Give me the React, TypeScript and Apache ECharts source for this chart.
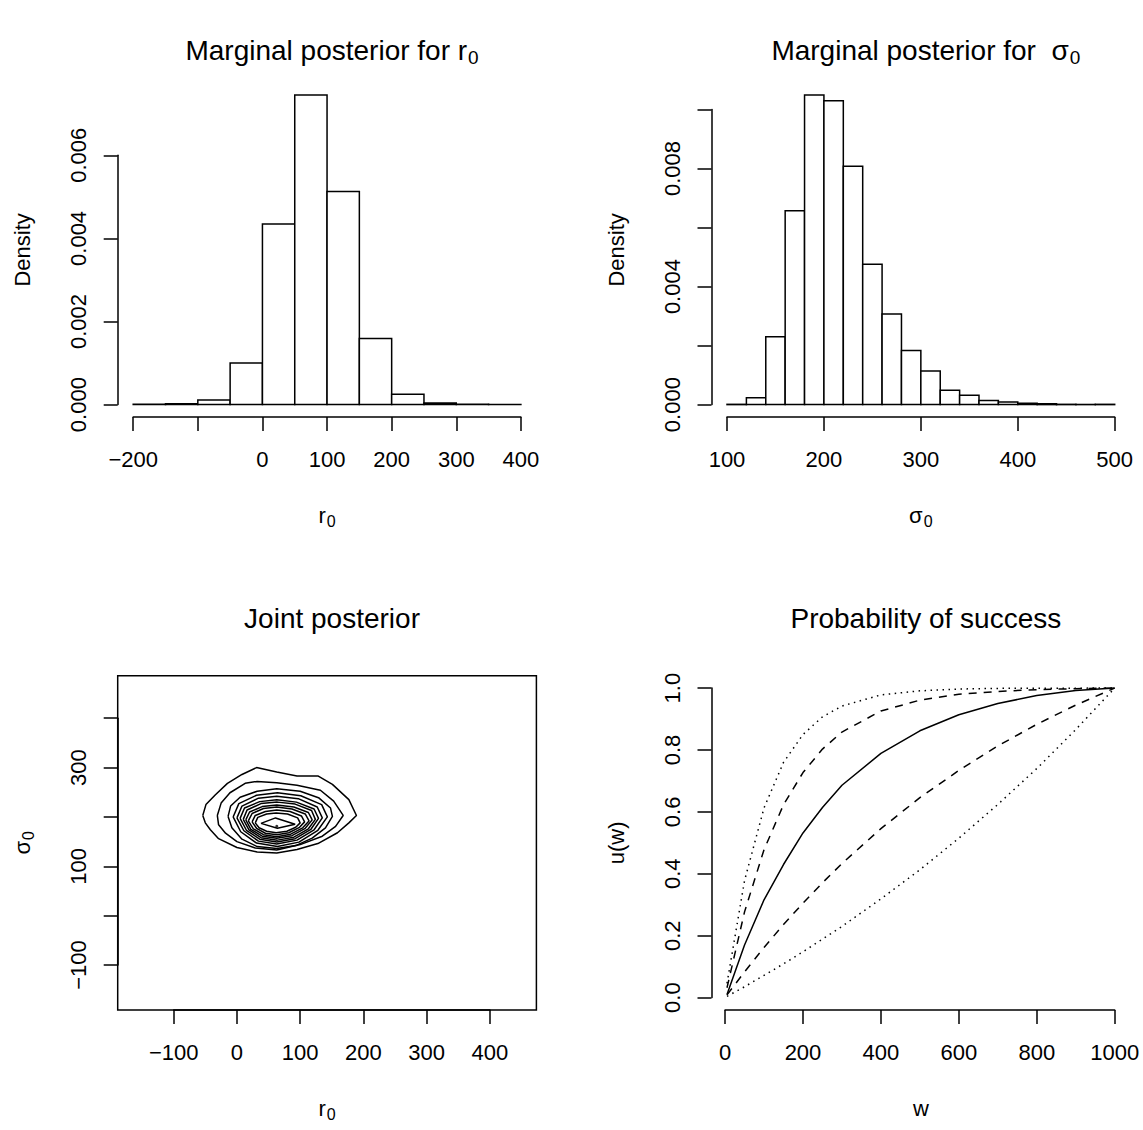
import React, { useEffect, useRef } from "react";
import * as echarts from "echarts";

const FONT = "'Liberation Sans', Arial, Helvetica, sans-serif";

// ---------- Panel 1: marginal posterior for r0 ----------
const r0Breaks = [-200, -150, -100, -50, 0, 50, 100, 150, 200, 250, 300, 350, 400];
const r0Density = [0.000008, 0.00002, 0.00011, 0.001, 0.00435, 0.00745, 0.00513, 0.00159, 0.00025, 0.00004, 0.00001, 0.000005];
const r0TicksX = [-200, -100, 0, 100, 200, 300, 400];
const r0LabelsX = [-200, 0, 100, 200, 300, 400];
const r0TicksY = [0, 0.002, 0.004, 0.006];
const r0LabelsY = [0, 0.002, 0.004, 0.006];

// ---------- Panel 2: marginal posterior for sigma0 ----------
const sigmaBreaks = [100, 120, 140, 160, 180, 200, 220, 240, 260, 280, 300, 320, 340, 360, 380, 400, 420, 440, 460, 480, 500];
const sigmaDensity = [0.00001, 0.00023, 0.0023, 0.00657, 0.01049, 0.0103, 0.00808, 0.00476, 0.00307, 0.00183, 0.00114, 0.00049, 0.00032, 0.000136, 0.00009, 0.00005, 0.00003, 0.00001, 0.000005, 0.00001];
const sigmaTicksX = [100, 200, 300, 400, 500];
const sigmaLabelsX = [100, 200, 300, 400, 500];
const sigmaTicksY = [0, 0.002, 0.004, 0.006, 0.008, 0.01];
const sigmaLabelsY = [0, 0.004, 0.008];

// ---------- Panel 3: joint posterior (contour lines, outer to inner) ----------
const jointXRange = [-164, 449];
const jointYRange = [-166, 461];
const contour1 = [[-54, 203], [-49, 225], [-34, 245], [-15, 268], [8, 286], [31, 300], [63, 291], [95, 283], [128, 283], [151, 266], [177, 235], [189, 203], [177, 188], [159, 168], [128, 146], [95, 134], [63, 127], [32, 129], [0, 138], [-29, 156], [-42, 174], [-50, 188]];
const contour2 = [[-31, 203], [-25, 228], [-11, 249], [13, 268], [32, 272], [63, 269], [95, 264], [132, 254], [153, 232], [168, 203], [156, 181], [135, 161], [100, 144], [63, 133], [29, 137], [0, 150], [-18, 167], [-29, 184]];
const contour3 = [[-14, 201], [-10, 222], [5, 240], [32, 252], [63, 257], [100, 252], [129, 239], [148, 218], [151, 201], [140, 178], [119, 157], [93, 142], [63, 136], [32, 140], [8, 155], [-8, 178]];
const contour4 = [[-6, 200], [3, 227], [31, 244], [64, 249], [101, 243], [134, 225], [143, 200], [128, 173], [98, 149], [64, 140], [31, 147], [6, 170]];
const contour5 = [[0, 198], [8, 222], [34, 238], [63, 242], [97, 237], [127, 220], [135, 198], [122, 174], [95, 153], [63, 145], [34, 151], [11, 172]];
const contour6 = [[5, 197], [12, 218], [36, 231], [63, 235], [94, 230], [122, 216], [129, 197], [117, 175], [92, 156], [63, 149], [36, 155], [15, 173]];
const contour7 = [[10, 195], [16, 214], [38, 227], [64, 230], [92, 226], [118, 213], [124, 195], [113, 176], [90, 159], [64, 153], [38, 158], [19, 174]];
const contour8 = [[14, 194], [20, 210], [40, 221], [63, 224], [90, 220], [113, 209], [119, 194], [108, 177], [87, 162], [63, 157], [40, 161], [22, 175]];
const contour9 = [[18, 192], [24, 207], [42, 217], [63, 220], [87, 216], [108, 206], [114, 192], [104, 178], [85, 165], [63, 160], [42, 164], [26, 176]];
const contour10 = [[24, 190], [29, 203], [45, 211], [63, 214], [84, 211], [102, 202], [107, 190], [99, 179], [82, 168], [63, 164], [45, 167], [31, 177]];
const contour11 = [[29, 188], [33, 199], [47, 206], [62, 208], [80, 206], [96, 198], [100, 188], [93, 179], [79, 171], [62, 168], [47, 171], [35, 178]];
const contour12 = [[38, 187], [61, 198], [92, 185], [64, 177]];
const contours = [contour1, contour2, contour3, contour4, contour5, contour6, contour7, contour8, contour9, contour10, contour11, contour12];
const jointMode = [63, 181];
const jointTicksX = [-100, 0, 100, 200, 300, 400];
const jointLabelsX = [-100, 0, 100, 200, 300, 400];
const jointTicksY = [-100, 0, 100, 200, 300, 400];
const jointLabelsY = [-100, 100, 300];

// ---------- Panel 4: probability of success ----------
const wValues = [5, 50, 100, 150, 200, 250, 300, 400, 500, 600, 700, 800, 900, 1000];
const uDottedHigh = [0.046, 0.378, 0.613, 0.76, 0.85, 0.907, 0.942, 0.978, 0.991, 0.997, 0.999, 0.9995, 0.9998, 1];
const uDashedHigh = [0.032, 0.277, 0.478, 0.623, 0.727, 0.803, 0.858, 0.926, 0.961, 0.98, 0.989, 0.995, 0.998, 1];
const uSolid = [0.01, 0.17, 0.316, 0.43, 0.532, 0.614, 0.686, 0.789, 0.862, 0.914, 0.95, 0.976, 0.992, 1];
const uDashedLow = [0.009, 0.083, 0.162, 0.236, 0.305, 0.371, 0.433, 0.546, 0.646, 0.734, 0.813, 0.883, 0.945, 1];
const uDottedLow = [0.004, 0.035, 0.072, 0.109, 0.148, 0.189, 0.23, 0.319, 0.413, 0.515, 0.624, 0.74, 0.866, 1];
const wTicks = [0, 200, 400, 600, 800, 1000];
const wLabels = [0, 200, 400, 600, 800, 1000];
const uTicks = [0, 0.2, 0.4, 0.6, 0.8, 1];
const uLabels = [0, 0.2, 0.4, 0.6, 0.8, 1];

// ---------- helpers ----------
const ext = (a: number, b: number) => [a - 0.04 * (b - a), b + 0.04 * (b - a)];
const intLabel = (v: number) => (v < 0 ? "\u2212" + Math.abs(Math.round(v)) : String(Math.round(v)));
const fix = (d: number) => (v: number) => (v < 0 ? "\u2212" : "") + Math.abs(v).toFixed(d);
const has = (arr: number[], v: number) => arr.some((a) => Math.abs(a - v) < 1e-9);

const subRich = (base: number, sub: number, pad: number) => ({
  n: { fontSize: base, lineHeight: base, fontFamily: FONT, color: "#000", verticalAlign: "top" },
  s: { fontSize: sub, lineHeight: sub, fontFamily: FONT, color: "#000", verticalAlign: "top", padding: [pad, 0, 0, 1] },
});

type Panel = {
  left: number; top: number; width: number; height: number; titleTop: number;
  xr: number[]; yr: number[];
  xt: number[]; yt: number[];
  xl: number[]; yl: number[];
  xf: (v: number) => string; yf: (v: number) => string;
  xName: string; yName: string; title: string; box: boolean;
};

export default function App() {
  const ref = useRef<HTMLDivElement>(null);
  useEffect(() => {
    if (!ref.current) return;
    const chart = echarts.init(ref.current, null, { renderer: "svg" });

    const W = 418.7, H = 334.3;
    const panels: Panel[] = [
      {
        left: 117.7, top: 82.7, width: W, height: H, titleTop: 31,
        xr: ext(r0Breaks[0], r0Breaks[r0Breaks.length - 1]), yr: ext(0, Math.max(...r0Density)),
        xt: r0TicksX, yt: r0TicksY, xl: r0LabelsX, yl: r0LabelsY, xf: intLabel, yf: fix(3),
        xName: "{n|r}{s|0}", yName: "{n|Density}", title: "{n|Marginal posterior for r}{s|0}", box: false,
      },
      {
        left: 711.5, top: 82.7, width: W, height: H, titleTop: 31,
        xr: ext(sigmaBreaks[0], sigmaBreaks[sigmaBreaks.length - 1]), yr: ext(0, Math.max(...sigmaDensity)),
        xt: sigmaTicksX, yt: sigmaTicksY, xl: sigmaLabelsX, yl: sigmaLabelsY, xf: intLabel, yf: fix(3),
        xName: "{n|\u03c3}{s|0}", yName: "{n|Density}", title: "{n|Marginal posterior for  \u03c3}{s|0}", box: false,
      },
      {
        left: 117.7, top: 675.7, width: W, height: H, titleTop: 599,
        xr: ext(jointXRange[0], jointXRange[1]), yr: ext(jointYRange[0], jointYRange[1]),
        xt: jointTicksX, yt: jointTicksY, xl: jointLabelsX, yl: jointLabelsY, xf: intLabel, yf: intLabel,
        xName: "{n|r}{s|0}", yName: "{n|\u03c3}{s|0}", title: "{n|Joint posterior}", box: true,
      },
      {
        left: 711.5, top: 675.7, width: W, height: H, titleTop: 599,
        xr: ext(wValues[0], wValues[wValues.length - 1]), yr: ext(0, 1),
        xt: wTicks, yt: uTicks, xl: wLabels, yl: uLabels, xf: intLabel, yf: fix(1),
        xName: "{n|w}", yName: "{n|u(w)}", title: "{n|Probability of success}", box: false,
      },
    ];

    const grids: any[] = [];
    const xAxes: any[] = [];
    const yAxes: any[] = [];
    const titles: any[] = [];
    const line = { color: "#000", width: 1.5 };

    panels.forEach((p, i) => {
      const g = 3 * i;
      // plot region
      grids.push({ left: p.left, top: p.top, width: p.width, height: p.height, show: p.box, borderColor: "#000", borderWidth: 1.5, backgroundColor: "transparent" });
      xAxes.push({
        gridIndex: g, type: "value", min: p.xr[0], max: p.xr[1],
        axisLine: { show: false }, axisTick: { show: false }, axisLabel: { show: false }, splitLine: { show: false },
        name: p.xName, nameLocation: "middle", nameGap: 87,
        nameTextStyle: { rich: subRich(22, 16, 9) },
      });
      yAxes.push({
        gridIndex: g, type: "value", min: p.yr[0], max: p.yr[1],
        axisLine: { show: false }, axisTick: { show: false }, axisLabel: { show: false }, splitLine: { show: false },
        name: p.yName, nameLocation: "middle", nameGap: 84, nameRotate: 90,
        nameTextStyle: { rich: subRich(22, 16, 9) },
      });
      // x axis (tick range only)
      const x0 = p.xt[0], x1 = p.xt[p.xt.length - 1];
      grids.push({
        left: p.left + ((x0 - p.xr[0]) / (p.xr[1] - p.xr[0])) * p.width,
        width: ((x1 - x0) / (p.xr[1] - p.xr[0])) * p.width,
        top: p.top, height: p.height, show: false,
      });
      xAxes.push({
        gridIndex: g + 1, type: "value", min: x0, max: x1, interval: p.xt[1] - p.xt[0], position: "bottom",
        axisLine: { show: true, onZero: false, lineStyle: line },
        axisTick: { show: true, length: 14, lineStyle: line },
        axisLabel: {
          show: true, showMinLabel: true, showMaxLabel: true, margin: 31, fontSize: 22, fontFamily: FONT, color: "#000",
          formatter: (v: number) => (has(p.xl, v) ? p.xf(v) : ""),
        },
        splitLine: { show: false },
      });
      yAxes.push({ gridIndex: g + 1, type: "value", min: 0, max: 1, show: false });
      // y axis (tick range only)
      const y0 = p.yt[0], y1 = p.yt[p.yt.length - 1];
      grids.push({
        left: p.left, width: p.width,
        top: p.top + ((p.yr[1] - y1) / (p.yr[1] - p.yr[0])) * p.height,
        height: ((y1 - y0) / (p.yr[1] - p.yr[0])) * p.height, show: false,
      });
      xAxes.push({ gridIndex: g + 2, type: "value", min: 0, max: 1, show: false });
      yAxes.push({
        gridIndex: g + 2, type: "value", min: y0, max: y1, interval: p.yt[1] - p.yt[0], position: "left",
        axisLine: { show: true, onZero: false, lineStyle: line },
        axisTick: { show: true, length: 14, lineStyle: line },
        axisLabel: {
          show: true, showMinLabel: true, showMaxLabel: true, rotate: 90, margin: 28, fontSize: 22, fontFamily: FONT, color: "#000",
          formatter: (v: number) => (has(p.yl, v) ? p.yf(v) : ""),
        },
        splitLine: { show: false },
      });
      titles.push({
        text: p.title, left: p.left + p.width / 2, top: p.titleTop, textAlign: "center",
        textStyle: { fontWeight: "normal", rich: subRich(28, 19, 12) },
      });
    });

    const histSeries = (breaks: number[], dens: number[], idx: number) => ({
      type: "custom", xAxisIndex: idx, yAxisIndex: idx, silent: true, clip: false,
      data: dens.map((d, i) => [breaks[i], breaks[i + 1], d]),
      encode: { x: [0, 1], y: 2 },
      renderItem: (_params: any, api: any) => {
        const a = api.coord([api.value(0), api.value(2)]);
        const b = api.coord([api.value(1), 0]);
        return {
          type: "rect",
          shape: { x: a[0], y: a[1], width: b[0] - a[0], height: b[1] - a[1] },
          style: { fill: "#fff", stroke: "#000", lineWidth: 1.5 },
        };
      },
    });

    const contourSeries = contours.map((c) => ({
      type: "line", xAxisIndex: 6, yAxisIndex: 6, silent: true, showSymbol: false, symbol: "none",
      data: [...c, c[0]], lineStyle: { color: "#000", width: 1.5 },
    }));

    const uLine = (vals: number[], type: any) => ({
      type: "line", xAxisIndex: 9, yAxisIndex: 9, silent: true, showSymbol: false, symbol: "none",
      data: wValues.map((w, i) => [w, vals[i]]), lineStyle: { color: "#000", width: 1.5, type },
    });

    chart.setOption({
      animation: false,
      backgroundColor: "#fff",
      textStyle: { fontFamily: FONT, color: "#000" },
      title: titles,
      grid: grids,
      xAxis: xAxes,
      yAxis: yAxes,
      series: [
        histSeries(r0Breaks, r0Density, 0),
        histSeries(sigmaBreaks, sigmaDensity, 3),
        ...contourSeries,
        {
          type: "scatter", xAxisIndex: 6, yAxisIndex: 6, silent: true, symbolSize: 3,
          data: [jointMode], itemStyle: { color: "#000" },
        },
        uLine(uDottedHigh, [1.5, 4.5]),
        uLine(uDashedHigh, [8, 7]),
        uLine(uSolid, "solid"),
        uLine(uDashedLow, [8, 7]),
        uLine(uDottedLow, [1.5, 4.5]),
      ],
    });
    return () => chart.dispose();
  }, []);

  return <div ref={ref} style={{ position: "absolute", left: 0, top: 0, width: 1143, height: 1130, background: "#fff" }} />;
}
